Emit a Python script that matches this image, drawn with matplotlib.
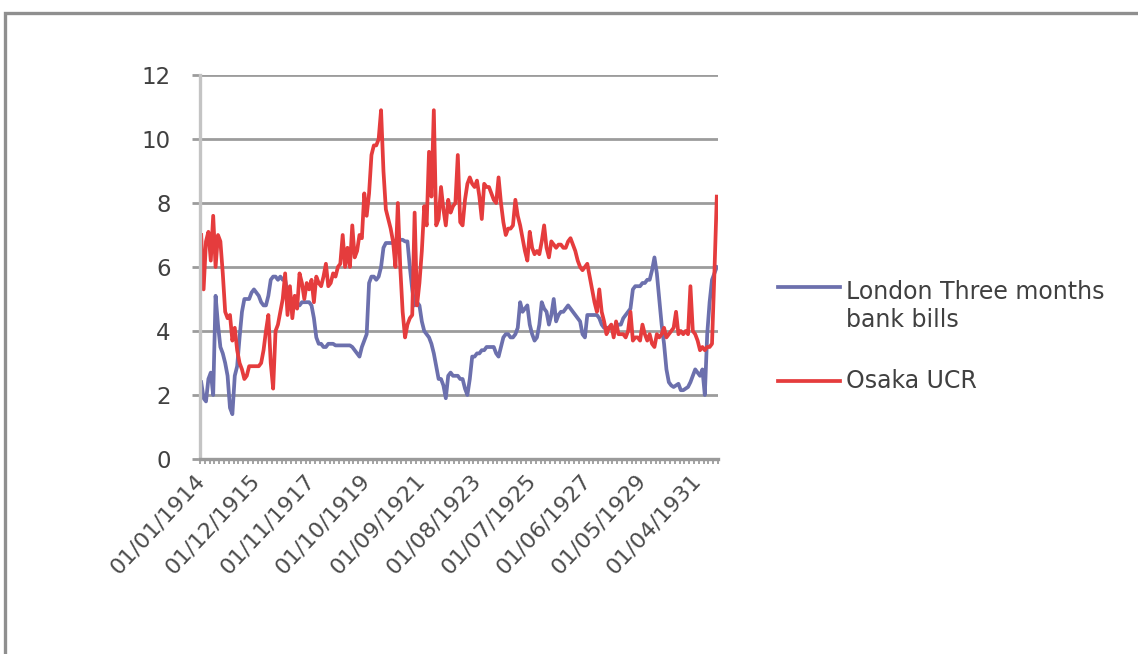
import matplotlib
matplotlib.use("Agg")
import matplotlib.pyplot as plt
from matplotlib.lines import Line2D
from matplotlib.patches import Rectangle
import numpy as np
import pandas as pd

# monthly observations, Jan 1914 - Dec 1931
months = pd.date_range("1914-01-01", periods=216, freq="MS")

london = [
    2.4, 1.9, 1.8, 2.5, 2.7, 2.0, 5.1, 4.2, 3.5, 3.3,
    3.0, 2.6, 1.6, 1.4, 2.6, 2.9, 3.8, 4.6, 5.0, 5.0,
    5.0, 5.2, 5.3, 5.2, 5.1, 4.9, 4.8, 4.8, 5.1, 5.6,
    5.7, 5.7, 5.6, 5.7, 5.6, 5.6, 5.2, 5.0, 5.0, 4.8,
    4.8, 4.8, 4.9, 4.9, 4.9, 4.9, 4.8, 4.4, 3.8, 3.6,
    3.6, 3.5, 3.5, 3.6, 3.6, 3.6, 3.55, 3.55, 3.55, 3.55,
    3.55, 3.55, 3.55, 3.5, 3.4, 3.3, 3.2, 3.5, 3.7, 3.9,
    5.5, 5.7, 5.7, 5.6, 5.7, 6.0, 6.6, 6.75, 6.75, 6.75,
    6.75, 6.75, 6.8, 6.85, 6.85, 6.8, 6.8, 6.0, 5.3, 4.8,
    4.9, 4.8, 4.3, 4.0, 3.9, 3.8, 3.6, 3.3, 2.9, 2.5,
    2.5, 2.3, 1.9, 2.6, 2.7, 2.6, 2.6, 2.6, 2.5, 2.5,
    2.2, 2.0, 2.5, 3.2, 3.2, 3.3, 3.3, 3.4, 3.4, 3.5,
    3.5, 3.5, 3.5, 3.3, 3.2, 3.5, 3.8, 3.9, 3.9, 3.8,
    3.8, 3.9, 4.1, 4.9, 4.6, 4.7, 4.8, 4.2, 3.9, 3.7,
    3.8, 4.2, 4.9, 4.7, 4.6, 4.2, 4.5, 5.0, 4.3, 4.5,
    4.6, 4.6, 4.7, 4.8, 4.7, 4.6, 4.5, 4.4, 4.3, 3.9,
    3.8, 4.5, 4.5, 4.5, 4.5, 4.5, 4.4, 4.2, 4.1, 4.1,
    4.1, 4.1, 4.1, 4.1, 4.2, 4.2, 4.4, 4.5, 4.6, 4.7,
    5.3, 5.4, 5.4, 5.4, 5.5, 5.5, 5.6, 5.6, 5.9, 6.3,
    5.8, 5.0, 4.2, 3.6, 2.8, 2.4, 2.3, 2.25, 2.3, 2.35,
    2.15, 2.15, 2.2, 2.25, 2.4, 2.6, 2.8, 2.7, 2.6, 2.8,
    2.0, 3.9, 4.9, 5.6, 5.8, 6.0,
]

osaka = [
    7.0, 5.3, 6.8, 7.1, 6.2, 7.6, 6.0, 7.0, 6.8, 5.8,
    4.6, 4.4, 4.5, 3.7, 4.1, 3.4, 3.0, 2.8, 2.5, 2.6,
    2.9, 2.9, 2.9, 2.9, 2.9, 3.0, 3.4, 4.0, 4.5, 3.0,
    2.2, 4.0, 4.2, 4.6, 5.0, 5.8, 4.5, 5.4, 4.4, 5.1,
    4.7, 5.8, 5.5, 5.0, 5.5, 5.3, 5.6, 4.9, 5.7, 5.5,
    5.4, 5.7, 6.1, 5.4, 5.5, 5.8, 5.7, 6.0, 6.1, 7.0,
    6.0, 6.6, 6.0, 7.3, 6.3, 6.5, 7.0, 6.9, 8.3, 7.6,
    8.3, 9.5, 9.8, 9.8, 10.0, 10.9, 9.0, 7.8, 7.5, 7.2,
    6.8, 6.0, 8.0, 6.0, 4.6, 3.8, 4.2, 4.4, 4.5, 7.7,
    4.8, 5.5, 6.5, 7.9, 7.3, 9.6, 8.2, 10.9, 7.3, 7.5,
    8.5, 7.8, 7.3, 8.1, 7.7, 7.9, 8.0, 9.5, 7.4, 7.3,
    8.1, 8.6, 8.8, 8.6, 8.5, 8.7, 8.2, 7.5, 8.6, 8.5,
    8.5, 8.3, 8.1, 8.0, 8.8, 8.0, 7.4, 7.0, 7.2, 7.2,
    7.3, 8.1, 7.6, 7.3, 6.9, 6.5, 6.2, 7.1, 6.6, 6.4,
    6.5, 6.4, 6.8, 7.3, 6.6, 6.3, 6.8, 6.7, 6.6, 6.7,
    6.7, 6.6, 6.6, 6.8, 6.9, 6.7, 6.5, 6.2, 6.0, 5.9,
    6.0, 6.1, 5.7, 5.3, 4.9, 4.6, 5.3, 4.6, 4.3, 3.9,
    4.1, 4.2, 3.8, 4.3, 3.9, 3.9, 3.9, 3.8, 4.0, 4.6,
    3.7, 3.8, 3.8, 3.7, 4.2, 3.9, 3.7, 3.9, 3.6, 3.5,
    3.9, 3.8, 3.9, 4.1, 3.8, 3.9, 4.0, 4.1, 4.6, 3.9,
    4.0, 3.9, 4.0, 3.9, 5.4, 4.0, 3.9, 3.7, 3.4, 3.5,
    3.4, 3.5, 3.5, 3.6, 5.8, 8.2,
]

label_every = 23
yticks = [0, 2, 4, 6, 8, 10, 12]

W, H = 1138, 654
fig = plt.figure(figsize=(W / 100, H / 100), dpi=100)
fig.patch.set_facecolor("white")

# outer frame of the chart area (only top and left edges are visible)
fig.patches.append(Rectangle((5 / W, -0.2), 1.5, 1.2 - 13 / H, transform=fig.transFigure,
                             fill=False, ec="#8f8f8f", lw=2.4))

ax = fig.add_axes([200 / W, 1 - 459 / H, 518 / W, 384 / H])

x = np.arange(len(months))
ax.plot(x, london, color="#6c70ad", lw=2.7, solid_joinstyle="round")
ax.plot(x, osaka, color="#e53c3d", lw=2.7, solid_joinstyle="round")

ax.set_xlim(-0.5, len(months) - 0.5)
ax.set_ylim(0, 12)

grid_c = "#9c9c9c"
txt_c = "#404040"
ax.set_yticks(yticks)
ax.yaxis.grid(True, color=grid_c, lw=2.0)
ax.set_axisbelow(True)
ax.tick_params(axis="y", length=6, width=2.0, color=grid_c, pad=15,
               labelsize=16.5, labelcolor=txt_c)

# category ticks along the bottom axis
ax.set_xticks(np.arange(-0.5, len(months), 2), minor=True)
ax.tick_params(axis="x", which="minor", length=3.5, width=1.1, color="#8a8a8a")
pos = x[::label_every]
ax.set_xticks(pos)
ax.set_xticklabels([months[i].strftime("%d/%m/%Y") for i in pos],
                   rotation=47, ha="right", va="center", rotation_mode="anchor",
                   fontsize=16, color="#4a4a4a")
ax.tick_params(axis="x", which="major", length=0, pad=13)

for s in ("top", "right"):
    ax.spines[s].set_visible(False)
ax.spines["left"].set_color("#c4c4c4")
ax.spines["left"].set_linewidth(2.4)
ax.spines["bottom"].set_color("#9a9a9a")
ax.spines["bottom"].set_linewidth(2.4)

# legend
def fx(px):
    return px / W

def fy(py):
    return 1 - py / H

fig.add_artist(Line2D([fx(778), fx(840)], [fy(287), fy(287)], color="#6c70ad", lw=2.7))
fig.add_artist(Line2D([fx(778), fx(840)], [fy(381), fy(381)], color="#e53c3d", lw=2.7))
fig.text(fx(846), fy(299), "London Three months", fontsize=17, color=txt_c,
         va="baseline", ha="left")
fig.text(fx(846), fy(327), "bank bills", fontsize=17, color=txt_c,
         va="baseline", ha="left")
fig.text(fx(846), fy(381), "Osaka UCR", fontsize=17, color=txt_c,
         va="center", ha="left")

fig.savefig("out.png", dpi=100)
